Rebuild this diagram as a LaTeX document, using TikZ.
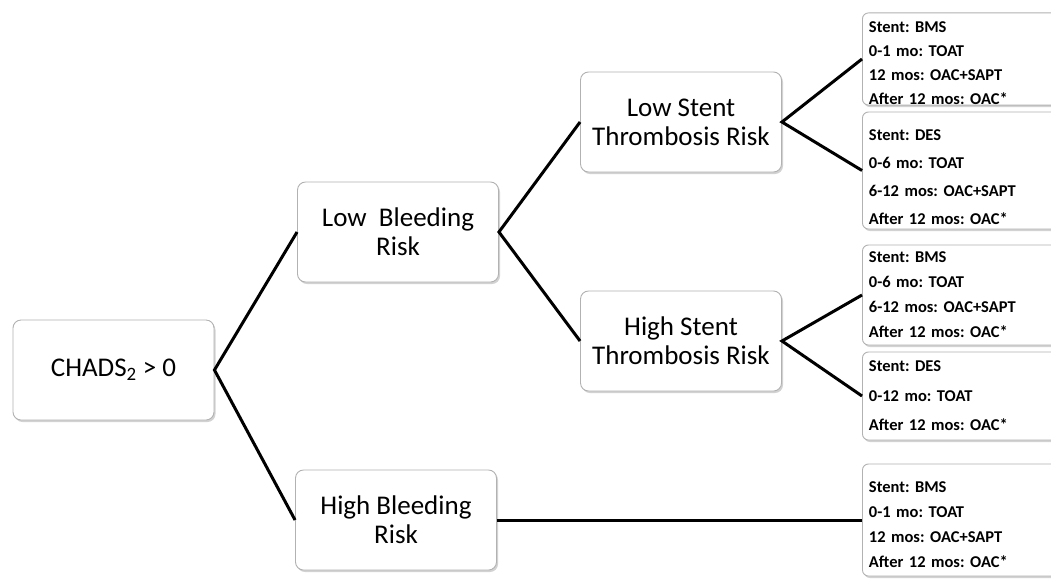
\documentclass[tikz,border=0pt]{standalone}
\usepackage{fontspec}
\setmainfont{Carlito}
\usetikzlibrary{shadows}
\frenchspacing
\newcommand{\dn}[1]{\rule{0pt}{#1pt}}
\tikzset{
  box/.style={draw=gray!60, line width=0.9pt, fill=white, rounded corners=8pt,
    minimum width=201pt, minimum height=100pt, align=center,
    font=\fontsize{27}{29}\selectfont,
    drop shadow={opacity=0.35, shadow xshift=1.5pt, shadow yshift=-2pt, fill=gray}},
  rbox/.style={draw=gray!60, line width=0.9pt, fill=white, rounded corners=6pt,
    minimum width=205pt, text width=192pt, inner xsep=3pt, inner ysep=0pt,
    align=left, anchor=west,
    drop shadow={opacity=0.35, shadow xshift=1.5pt, shadow yshift=-2pt, fill=gray}},
  rfont/.style={font=\fontsize{16.5}{#1}\selectfont\bfseries},
  link/.style={line width=3pt, black}
}
\begin{document}
\begin{tikzpicture}[x=1pt, y=-1pt]
\useasboundingbox (0,0) rectangle (1051,582);
\clip (0,0) rectangle (1051,582);
\fill[white] (0,0) rectangle (1051,582);

\node[box] (chads) at (113.5,370) {CHADS\textsubscript{2} > 0};
\node[box] (lbr) at (398,232) {Low~ Bleeding\\Risk};
\node[box] (hbr) at (396,520) {High Bleeding\\Risk};
\node[box] (lst) at (681,122) {Low Stent\\Thrombosis Risk};
\node[box] (hst) at (681,341) {High Stent\\Thrombosis Risk};

\node[rbox, rfont=24, minimum height=92pt] (b1) at (862,59)
  {\dn{20}Stent: BMS\\0-1 mo: TOAT\\12 mos: OAC+SAPT\\After 12 mos: OAC*};
\node[rbox, rfont=28, minimum height=117pt] (b2) at (862,170.5)
  {\dn{24}Stent: DES\\0-6 mo: TOAT\\6-12 mos: OAC+SAPT\\After 12 mos: OAC*};
\node[rbox, rfont=25, minimum height=100pt] (b3) at (862,295)
  {Stent: BMS\\0-6 mo: TOAT\\6-12 mos: OAC+SAPT\\After 12 mos: OAC*};
\node[rbox, rfont=29.5, minimum height=88pt] (b4) at (862,396)
  {Stent: DES\\0-12 mo: TOAT\\After 12 mos: OAC*};
\node[rbox, rfont=25, minimum height=112pt] (b5) at (862,520)
  {\dn{20}Stent: BMS\\0-1 mo: TOAT\\12 mos: OAC+SAPT\\After 12 mos: OAC*};

\draw[link] (lbr.west) -- (chads.east) -- (hbr.west);
\draw[link] (lst.west) -- (lbr.east) -- (hst.west);
\draw[link] (b1.west) -- (lst.east) -- (b2.west);
\draw[link] (b3.west) -- (hst.east) -- (b4.west);
\draw[link] (hbr.east) -- (b5.west);
\end{tikzpicture}
\end{document}
